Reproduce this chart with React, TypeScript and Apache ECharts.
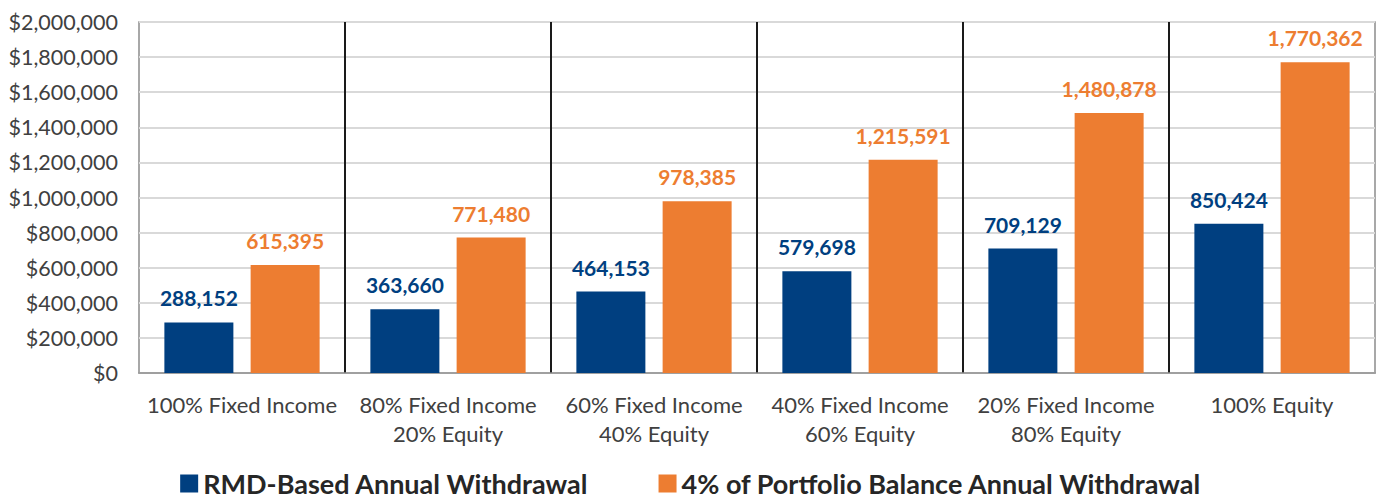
import React, { useEffect, useRef } from "react";
import * as echarts from "echarts";

const categories = [
  "100% Fixed Income",
  "80% Fixed Income\n20% Equity",
  "60% Fixed Income\n40% Equity",
  "40% Fixed Income\n60% Equity",
  "20% Fixed Income\n80% Equity",
  "100% Equity",
];
const rmdValues = [288152, 363660, 464153, 579698, 709129, 850424];
const fourPctValues = [615395, 771480, 978385, 1215591, 1480878, 1770362];
const seriesNames = ["RMD-Based Annual Withdrawal", "4% of Portfolio Balance Annual Withdrawal"];

const FONT = "Lato, 'Open Sans', sans-serif";
const fmt = (v: number) => v.toLocaleString("en-US");

export default function App() {
  const ref = useRef<HTMLDivElement>(null);
  useEffect(() => {
    if (!ref.current) return;
    const chart = echarts.init(ref.current, null, { renderer: "svg" });
    chart.setOption({
      animation: false,
      textStyle: { fontFamily: FONT },
      grid: {
        left: 139,
        right: 7,
        top: 22,
        bottom: 127,
        show: true,
        borderColor: "#8c8c8c",
        borderWidth: 1.5,
        containLabel: false,
      },
      legend: {
        bottom: -2,
        left: "center",
        itemGap: 70,
        itemWidth: 18,
        itemHeight: 18,
        icon: "rect",
        textStyle: { fontFamily: FONT, fontSize: 27, fontWeight: "bold", color: "#262626" },
        data: seriesNames,
      },
      xAxis: {
        type: "category",
        data: categories,
        axisLine: { show: true, lineStyle: { color: "#8c8c8c", width: 1.5 } },
        axisTick: { show: false },
        splitLine: {
          show: true,
          showMinLine: false,
          showMaxLine: false,
          lineStyle: { color: "#1a1a1a", width: 2 },
        },
        axisLabel: {
          interval: 0,
          margin: 17,
          fontFamily: FONT,
          fontSize: 22,
          color: "#404040",
          lineHeight: 29,
        },
      },
      yAxis: {
        type: "value",
        min: 0,
        max: 2000000,
        interval: 200000,
        axisLine: { show: false },
        axisTick: { show: false },
        splitLine: { show: true, lineStyle: { color: "#d9d9d9", width: 2 } },
        axisLabel: {
          margin: 21,
          fontFamily: FONT,
          fontSize: 21.5,
          color: "#404040",
          formatter: (v: number) => "$" + fmt(v),
        },
      },
      series: [
        {
          name: seriesNames[0],
          type: "bar",
          data: rmdValues,
          barWidth: 69,
          barGap: "25%",
          itemStyle: { color: "#003f80" },
          label: {
            show: true,
            position: "top",
            distance: 14,
            fontFamily: FONT,
            fontSize: 21,
            fontWeight: "bold",
            color: "#003f80",
            formatter: (p: any) => fmt(p.value),
          },
        },
        {
          name: seriesNames[1],
          type: "bar",
          data: fourPctValues,
          barWidth: 69,
          barGap: "25%",
          itemStyle: { color: "#ed7d31" },
          label: {
            show: true,
            position: "top",
            distance: 14,
            fontFamily: FONT,
            fontSize: 21,
            fontWeight: "bold",
            color: "#ed7d31",
            formatter: (p: any) => fmt(p.value),
          },
        },
      ],
    });
    return () => chart.dispose();
  }, []);
  return (
    <div
      ref={ref}
      style={{ position: "fixed", left: 0, top: 0, width: 1382, height: 500, background: "#fff" }}
    />
  );
}
